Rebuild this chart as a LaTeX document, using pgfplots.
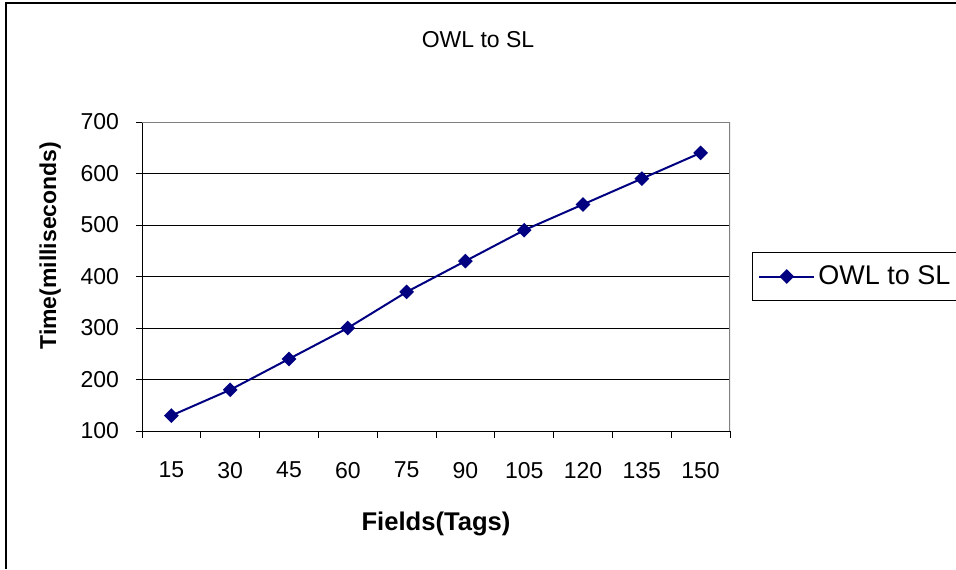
\documentclass[border=0pt]{standalone}
\usepackage{fontspec}
\setmainfont{Liberation Sans}
\usepackage{pgfplots}
\pgfplotsset{compat=1.18}
\definecolor{owlnavy}{RGB}{0,0,128}
\definecolor{areagray}{RGB}{128,128,128}
\begin{document}
\begin{tikzpicture}
\useasboundingbox (0,0) rectangle (478pt,284.5pt);
% outer chart frame (left and top edges visible)
\draw[black, line width=1pt] (3pt,0) -- (3pt,283pt) -- (478pt,283pt);
\node[font=\fontsize{11.5}{14}\selectfont] at (239pt,264.5pt) {OWL to SL};
\begin{axis}[
    at={(71pt,69pt)}, anchor=south west,
    scale only axis, width=294pt, height=154.5pt,
    xmin=0.5, xmax=10.5, ymin=100, ymax=700,
    xtick={1,...,10},
    xticklabels={15,30,45,60,75,90,105,120,135,150},
    minor xtick={0.5,1.5,...,10.5},
    ytick={100,200,...,700},
    axis lines=left,
    axis line style={-, line width=0.5pt, black},
    tick align=outside,
    major tick length=3pt,
    minor tick length=3.5pt,
    major x tick style={draw=none},
    minor x tick style={black, line width=0.5pt},
    ytick style={black, line width=0.5pt},
    ymajorgrids=true,
    grid style={black, line width=0.5pt},
    /pgf/number format/assume math mode=true,
    tick label style={font=\fontsize{11.5}{14}\selectfont},
    xticklabel style={yshift=-9pt},
    yticklabel style={xshift=-5pt},
    xlabel={\textbf{Fields(Tags)}},
    ylabel={\textbf{Time(milliseconds)}},
    xlabel style={font=\fontsize{12.8}{15}\selectfont, at={(rel axis cs:0.5,-0.30)}, anchor=center},
    ylabel style={font=\fontsize{11.5}{14}\selectfont, at={(rel axis cs:-0.156,0.60)}, anchor=center},
    legend style={at={(rel axis cs:1.037,0.579)}, anchor=north west,
        draw=black, line width=0.5pt, font=\fontsize{13.5}{16}\selectfont,
        inner xsep=3pt, inner ysep=3.5pt,
        nodes={inner xsep=1.5pt, inner ysep=3pt}},
    legend image code/.code={
        \draw[mark repeat=2, mark phase=2] plot coordinates {(0pt,0pt) (13.75pt,0pt) (27.5pt,0pt)};
    },
]
\addplot[color=owlnavy, line width=1pt, mark=square*, mark size=2.1pt,
    mark options={rotate=45, solid, fill=owlnavy}]
coordinates {
    (1, 130)
    (2, 180)
    (3, 240)
    (4, 300)
    (5, 370)
    (6, 430)
    (7, 490)
    (8, 540)
    (9, 590)
    (10, 640)
};
\addlegendentry{OWL to SL}
\draw[areagray, line width=0.75pt] (rel axis cs:0,1) -- (rel axis cs:1,1) -- (rel axis cs:1,0);
\end{axis}
\end{tikzpicture}
\end{document}
